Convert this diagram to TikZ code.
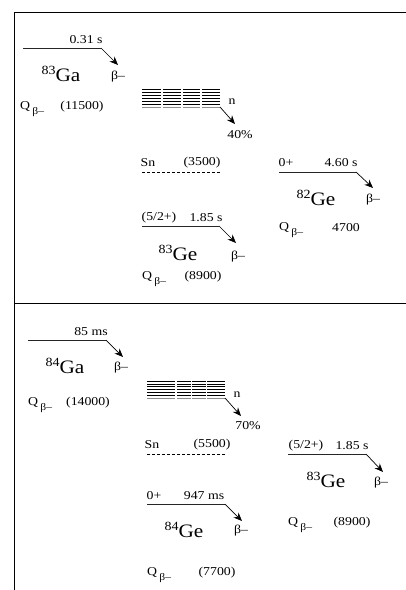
\documentclass[tikz,border=0pt]{standalone}
\usepackage{fontspec}
\setmainfont{Liberation Serif}
\usetikzlibrary{positioning, calc, arrows.meta}

\newcommand{\qbeta}{Q\,\raisebox{-0.42em}{\fontsize{10}{11}\selectfont β–}}
\newcommand{\nuc}[2]{\raisebox{0.4em}{\fontsize{12.5}{13}\selectfont #1}#2}

\begin{document}
\begin{tikzpicture}[x=1pt, y=-1pt,
    txt/.style={font=\fontsize{12}{13}\selectfont, xscale=1.15, inner sep=0pt},
    big/.style={font=\fontsize{19}{22}\selectfont, xscale=1.12, inner sep=0pt},
    qlab/.style={txt, anchor=west},
    level/.style={line width=0.7pt, black!85},
    decay/.style={line width=0.7pt, -{Stealth[length=8.5pt, width=7pt]}},
    sep/.style={dashed, line width=0.6pt, dash pattern=on 3pt off 2pt},
    frameline/.style={line width=0.8pt}]
    \useasboundingbox (0,0) rectangle (406,590);

    % ---------------- FRAME ----------------
    \draw[frameline] (14,590) -- (14,12) -- (406,12);
    \draw[frameline] (14,303) -- (406,303);

    % ---------------- TOP PANEL (83Ga) ----------------
    \begin{scope}
        % 83Ga
        \node[txt] (gaT) at (86,40) {0.31 s};
        \coordinate (gaA) at (23,48); \coordinate (gaB) at (101,48); \coordinate (gaC) at (118,65);
        \draw[level] (gaA) -- (gaB);
        \draw[decay] (gaB) -- (gaC);
        \node[big] (gaN) at (61,74) {\nuc{83}{Ga}};
        \node[txt] (gaBeta) at (118,77) {β–};
        \node[qlab] (gaQ) at (20,109) {\qbeta};
        \node[txt] (gaV) at (82,107) {(11500)};

        % neutron emitting states
        \foreach \a/\b in {142/161,163/181,183/200,202/220}
            \foreach \yy in {89,92,...,104}
                \draw[line width=0.4pt] (\a,\yy) -- (\b,\yy);
        \foreach \a/\b in {142/161,163/181,183/200,202/220}
            \draw[line width=0.5pt, black!45] (\a,107) -- (\b,107);
        \coordinate (stA) at (220,107); \coordinate (stB) at (235,124);
        \draw[decay] (stA) -- (stB);
        \node[txt] (stN) at (232,102) {n};
        \node[txt] (stP) at (240,135) {40\%};

        % Sn
        \node[txt] (snL) at (148,163) {Sn};
        \node[txt] (snV) at (202,163) {(3500)};
        \coordinate (snA) at (142,172); \coordinate (snB) at (220,172);
        \draw[sep] (snA) -- (snB);

        % 82Ge
        \node[txt] (geaS) at (286,163) {0+};
        \node[txt] (geaT) at (341,163) {4.60 s};
        \coordinate (geaA) at (279,172); \coordinate (geaB) at (356,172); \coordinate (geaC) at (373,188);
        \draw[level] (geaA) -- (geaB);
        \draw[decay] (geaB) -- (geaC);
        \node[big] (geaN) at (316,198) {\nuc{82}{Ge}};
        \node[txt] (geaBeta) at (373,200) {β–};
        \node[qlab] (geaQ) at (279,230) {\qbeta};
        \node[txt] (geaV) at (346,228) {4700};

        % 83Ge
        \node[txt] (gebS) at (159,218) {(5/2+)};
        \node[txt] (gebT) at (206,218) {1.85 s};
        \coordinate (gebA) at (142,226); \coordinate (gebB) at (219,226); \coordinate (gebC) at (236,243);
        \draw[level] (gebA) -- (gebB);
        \draw[decay] (gebB) -- (gebC);
        \node[big] (gebN) at (178,253) {\nuc{83}{Ge}};
        \node[txt] (gebBeta) at (238,257) {β–};
        \node[qlab] (gebQ) at (142,279) {\qbeta};
        \node[txt] (gebV) at (203,277) {(8900)};
    \end{scope}

    % ---------------- BOTTOM PANEL (84Ga) ----------------
    \begin{scope}
        % 84Ga
        \node[txt] (gcT) at (91,332) {85 ms};
        \coordinate (gcA) at (28,340); \coordinate (gcB) at (106,340); \coordinate (gcC) at (123,357);
        \draw[level] (gcA) -- (gcB);
        \draw[decay] (gcB) -- (gcC);
        \node[big] (gcN) at (65,366) {\nuc{84}{Ga}};
        \node[txt] (gcBeta) at (121,368) {β–};
        \node[qlab] (gcQ) at (28,405) {\qbeta};
        \node[txt] (gcV) at (88,403) {(14000)};

        % neutron emitting states
        \foreach \a/\b in {147/175,177/190.5,192/205.5,207/225}
            \foreach \k in {0,...,5}
                \draw[line width=0.4pt] (\a,381+\k*2.83) -- (\b,381+\k*2.83);
        \foreach \a/\b in {147/175,177/190.5,192/205.5,207/225}
            \draw[line width=0.5pt, black!45] (\a,398) -- (\b,398);
        \coordinate (sdA) at (225,398); \coordinate (sdB) at (241,416);
        \draw[decay] (sdA) -- (sdB);
        \node[txt] (sdN) at (237,395) {n};
        \node[txt] (sdP) at (248,426) {70\%};

        % Sn
        \node[txt] (sncL) at (152,445) {Sn};
        \node[txt] (sncV) at (212,445) {(5500)};
        \coordinate (sncA) at (147,454); \coordinate (sncB) at (225,454);
        \draw[sep] (sncA) -- (sncB);

        % 83Ge
        \node[txt] (gedS) at (306,446) {(5/2+)};
        \node[txt] (gedT) at (352,446) {1.85 s};
        \coordinate (gedA) at (288,454); \coordinate (gedB) at (366,454); \coordinate (gedC) at (383,472);
        \draw[level] (gedA) -- (gedB);
        \draw[decay] (gedB) -- (gedC);
        \node[big] (gedN) at (326,480) {\nuc{83}{Ge}};
        \node[txt] (gedBeta) at (381,483) {β–};
        \node[qlab] (gedQ) at (288,525) {\qbeta};
        \node[txt] (gedV) at (352,523) {(8900)};

        % 84Ge
        \node[txt] (geeS) at (154,496) {0+};
        \node[txt] (geeT) at (204,496) {947 ms};
        \coordinate (geeA) at (147,504); \coordinate (geeB) at (225,504); \coordinate (geeC) at (242,521);
        \draw[level] (geeA) -- (geeB);
        \draw[decay] (geeB) -- (geeC);
        \node[big] (geeN) at (184,530) {\nuc{84}{Ge}};
        \node[txt] (geeBeta) at (241,531) {β–};
        \node[qlab] (geeQ) at (147,575) {\qbeta};
        \node[txt] (geeV) at (217,573) {(7700)};
    \end{scope}
\end{tikzpicture}
\end{document}
